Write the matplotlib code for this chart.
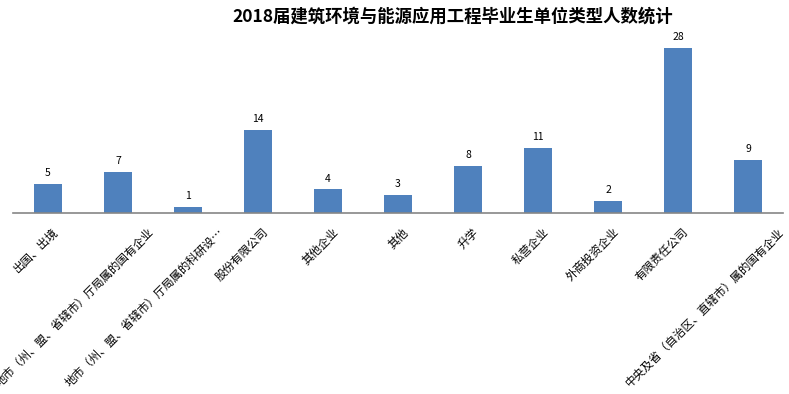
import matplotlib
matplotlib.use("Agg")
import matplotlib.pyplot as plt
from matplotlib.transforms import ScaledTranslation

plt.rcParams['font.family'] = ['Noto Sans CJK SC', 'DejaVu Sans']

categories = ["出国、出境",
              "地市（州、盟、省辖市）厅局属的国有企业",
              "地市（州、盟、省辖市）厅局属的科研设…",
              "股份有限公司", "其他企业", "其他", "升学", "私营企业",
              "外商投资企业", "有限责任公司",
              "中央及省（自治区、直辖市）属的国有企业"]
counts = [5, 7, 1, 14, 4, 3, 8, 11, 2, 28, 9]

fig = plt.figure(figsize=(7.89, 3.94), dpi=100)
ax = fig.add_axes([13/789, 181/394, 770/789, 177/394])

x = range(len(categories))
ax.bar(x, counts, width=0.4, color="#4F81BD")
for xi, v in zip(x, counts):
    ax.text(xi, v + 1.0, str(v), ha="center", va="bottom", fontsize=7.5)

ax.set_xlim(-0.5, len(categories) - 0.5)
ax.set_ylim(0, 30)
for s in ["top", "right", "left"]:
    ax.spines[s].set_visible(False)
ax.spines["bottom"].set_color("#868686")
ax.spines["bottom"].set_linewidth(1.2)
ax.set_yticks([])
ax.set_xticks(list(x))
ax.set_xticklabels(categories, rotation=45, ha="right", va="top",
                   rotation_mode="anchor", fontsize=8.3)
ax.tick_params(axis="x", length=0, pad=9)

# long labels sit further right, like Excel does it
for lab in ax.get_xticklabels():
    dx = 29 if len(lab.get_text()) > 12 else 4
    lab.set_transform(lab.get_transform() + ScaledTranslation(dx / 100, 0, fig.dpi_scale_trans))

fig.text(453/789, 1 - 17/394, "2018届建筑环境与能源应用工程毕业生单位类型人数统计",
         ha="center", va="center", fontsize=12.5, fontweight="bold")

fig.savefig("out.png", dpi=100)
